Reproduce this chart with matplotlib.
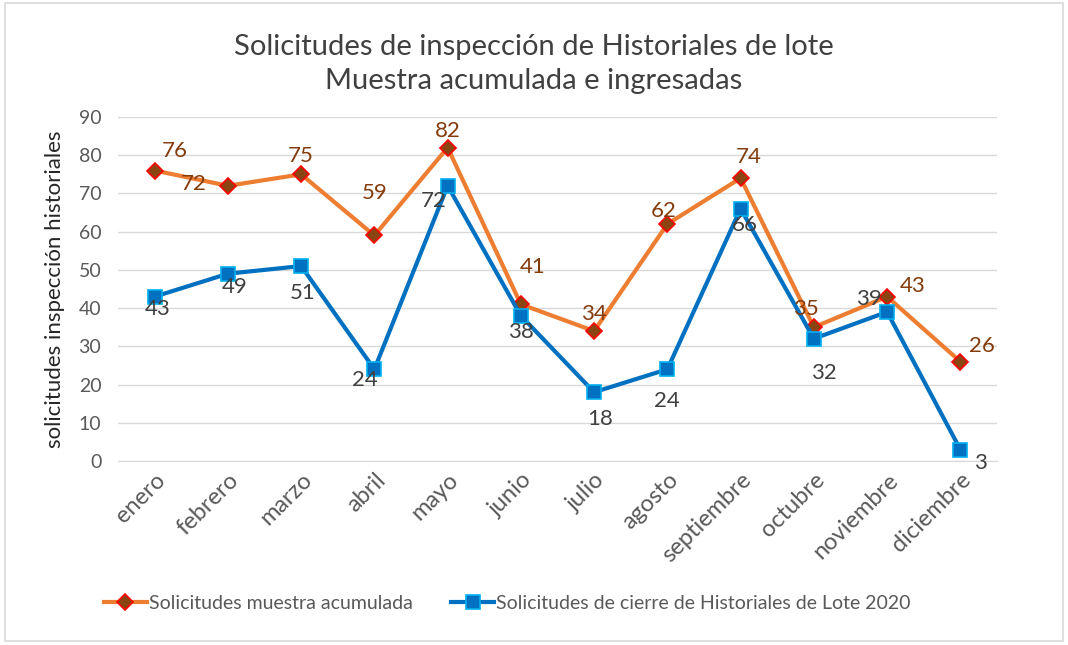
import matplotlib.pyplot as plt
from matplotlib.patches import Rectangle

# ===== Datos =====
meses = ["enero", "febrero", "marzo", "abril", "mayo", "junio", "julio",
         "agosto", "septiembre", "octubre", "noviembre", "diciembre"]
muestra_acumulada = [76, 72, 75, 59, 82, 41, 34, 62, 74, 35, 43, 26]
cierre_historiales = [43, 49, 51, 24, 72, 38, 18, 24, 66, 32, 39, 3]

# desplazamiento de las etiquetas (pixeles)
off_naranja = [(20, 20), (-34, 2), (0, 18), (0, 42), (0, 17), (12, 37),
               (0, 17), (-4, 13), (8, 21), (-8, 18), (26, 11), (22, 16)]
off_azul = [(3, -12), (7, -13), (2, -27), (-10, -11), (-14, -15), (0, -16),
            (6, -27), (0, -32), (4, -16), (10, -34), (-18, 13), (20, -13)]

plt.rcParams["font.family"] = ["Lato", "DejaVu Sans"]
gris = "#595959"

fig = plt.figure(figsize=(10.68, 6.45), dpi=100)
ax = fig.add_axes([0.1105, 0.2853, 0.823, 0.5333])

# marco del grafico
fig.patches.append(Rectangle((0.005, 0.006), 0.99, 0.99, transform=fig.transFigure,
                             fill=False, edgecolor="#d9d9d9", linewidth=1.2))

x = list(range(len(meses)))
ax.plot(x, muestra_acumulada, color="#ED7D31", linewidth=3, marker="D",
        markersize=8.5, markerfacecolor="#8B4513", markeredgecolor="#FF0000",
        markeredgewidth=1.2, label="Solicitudes muestra acumulada", zorder=3)
ax.plot(x, cierre_historiales, color="#0070C0", linewidth=3, marker="s",
        markersize=10.5, markerfacecolor="#0070C0", markeredgecolor="#00B0F0",
        markeredgewidth=1.2, label="Solicitudes de cierre de Historiales de Lote 2020", zorder=3)

for i, v in enumerate(muestra_acumulada):
    ax.annotate(str(v), (i, v), xytext=off_naranja[i], textcoords="offset pixels",
                ha="center", va="center", fontsize=16, color="#843C0C", zorder=4)
for i, v in enumerate(cierre_historiales):
    ax.annotate(str(v), (i, v), xytext=off_azul[i], textcoords="offset pixels",
                ha="center", va="center", fontsize=16, color="#404040", zorder=4)

ax.set_xlim(-0.5, len(meses) - 0.5)
ax.set_ylim(0, 90)
ax.set_yticks(range(0, 91, 10))
ax.set_xticks(x)
ax.set_xticklabels(meses, rotation=45, ha="right", rotation_mode="anchor", fontsize=17, color=gris)
ax.tick_params(axis="y", labelsize=14, colors=gris, length=0, pad=12)
ax.tick_params(axis="x", length=0, pad=6)
ax.grid(axis="y", color="#d9d9d9", linewidth=1)
ax.set_axisbelow(True)
for s in ["top", "right", "left"]:
    ax.spines[s].set_visible(False)
ax.spines["bottom"].set_color("#d9d9d9")

ax.set_ylabel("solicitudes inspección historiales", fontsize=16, color="#262626", labelpad=10)
fig.suptitle("Solicitudes de inspección de Historiales de lote\nMuestra acumulada e ingresadas",
             fontsize=21, color="#404040", y=0.948, linespacing=1.4)

fig.legend(loc="center", bbox_to_anchor=(0.475, 0.065), ncol=2, frameon=False,
           fontsize=14, labelcolor=gris, handlelength=2.2, handletextpad=0.1, columnspacing=2.0)

fig.savefig("out.png", dpi=100)
